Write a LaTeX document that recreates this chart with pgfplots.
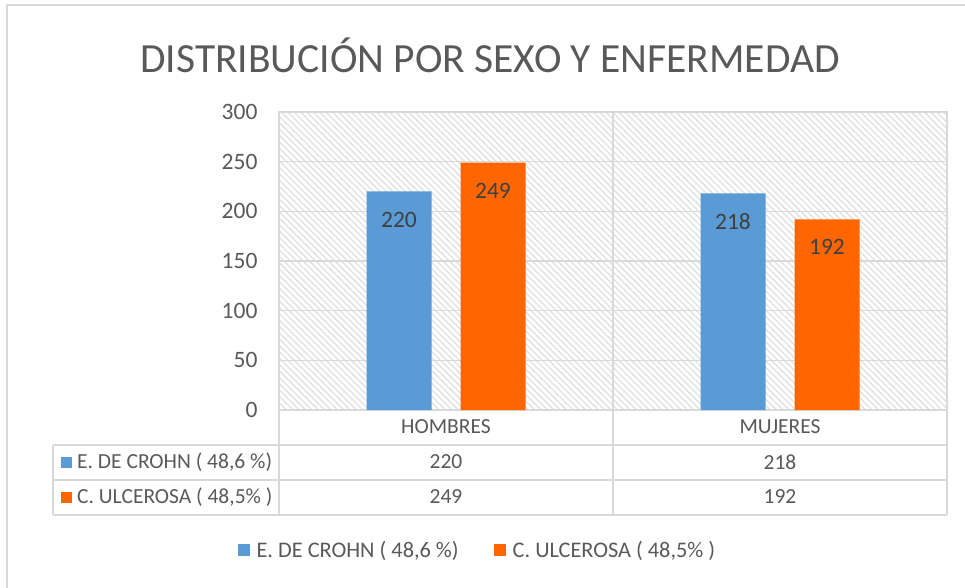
\documentclass[border=0pt]{standalone}
\usepackage{pgfplots}
\pgfplotsset{compat=1.18}
\usepackage{fontspec}
\setmainfont{Carlito}
\usetikzlibrary{patterns.meta}
\definecolor{cblue}{HTML}{5B9BD5}
\definecolor{corange}{HTML}{FF6600}
\definecolor{gridc}{HTML}{D9D9D9}
\definecolor{txt}{HTML}{595959}
\definecolor{lbl}{HTML}{404040}
\definecolor{hatch}{HTML}{E0E0E0}
\newcommand{\tf}{\fontsize{21.5}{25}\selectfont}
\begin{document}
\begin{tikzpicture}
\path[use as bounding box] (0pt,0pt) rectangle (965pt,-588pt);
\draw[gridc, line width=1.5pt] (7pt,-588pt) -- (7pt,-5pt) -- (965pt,-5pt);
\node[text=txt, font=\fontsize{41.5}{48}\selectfont] at (490pt,-55pt) {DISTRIBUCIÓN POR SEXO Y ENFERMEDAD};
\begin{axis}[
  at={(279pt,-410pt)}, anchor=south west,
  scale only axis, width=668pt, height=298pt,
  xmin=-0.5, xmax=1.5, ymin=0, ymax=300,
  ybar=29pt, bar width=65pt,
  ytick={0,50,...,300},
  xtick={0,1}, xticklabels={},
  extra x ticks={0.5}, extra x tick labels={},
  extra x tick style={grid=major},
  ymajorgrids,
  major grid style={gridc, line width=1.5pt},
  axis line style={gridc, line width=1.5pt},
  major tick length=0pt,
  tick label style={font=\fontsize{23.5}{27}\selectfont, text=txt},
  yticklabel style={xshift=-18pt},
  /pgf/number format/assume math mode=true,
  axis background/.style={pattern={Lines[angle=-45,distance=4.5pt,line width=1.3pt]}, pattern color=hatch},
  legend style={at={(0.297,-0.47)}, anchor=center, draw=none, fill=none,
    legend columns=2, font=\fontsize{22.3}{26}\selectfont, text=txt,
    /tikz/every even column/.append style={column sep=33pt}},
  legend image code/.code={\path (0pt,0pt) -- (17pt,0pt);\path[#1,draw=none] (0pt,-6pt) rectangle (12pt,6pt);},
  nodes near coords,
  nodes near coords style={font=\fontsize{23.5}{27}\selectfont, text=lbl, anchor=center, yshift=-28pt},
]
\addplot[fill=cblue, draw=none] coordinates {(0,220) (1,218)};
\addlegendentry{E. DE CROHN ( 48,6 \%)}
\addplot[fill=corange, draw=none] coordinates {(0,249) (1,192)};
\addlegendentry{C. ULCEROSA ( 48,5\% )}
\end{axis}
% data table
\draw[gridc, line width=1.5pt] (53pt,-445pt) -- (947pt,-445pt);
\draw[gridc, line width=1.5pt] (53pt,-480pt) -- (947pt,-480pt);
\draw[gridc, line width=1.5pt] (53pt,-515pt) -- (947pt,-515pt);
\draw[gridc, line width=1.5pt] (53pt,-445pt) -- (53pt,-515pt);
\draw[gridc, line width=1.5pt] (279pt,-410pt) -- (279pt,-515pt);
\draw[gridc, line width=1.5pt] (613pt,-410pt) -- (613pt,-515pt);
\draw[gridc, line width=1.5pt] (947pt,-410pt) -- (947pt,-515pt);
\node[text=txt, font=\tf] at (446pt,-427pt) {HOMBRES};
\node[text=txt, font=\tf] at (780pt,-427pt) {MUJERES};
\node[text=txt, font=\tf] at (446pt,-462pt) {220};
\node[text=txt, font=\tf] at (780pt,-462pt) {218};
\node[text=txt, font=\tf] at (446pt,-497pt) {249};
\node[text=txt, font=\tf] at (780pt,-497pt) {192};
\fill[cblue] (61pt,-457pt) rectangle (72pt,-468pt);
\fill[corange] (61pt,-492pt) rectangle (72pt,-503pt);
\node[text=txt, font=\tf, anchor=west, inner sep=0pt] at (77pt,-462pt) {E. DE CROHN ( 48,6 \%)};
\node[text=txt, font=\tf, anchor=west, inner sep=0pt] at (77pt,-497pt) {C. ULCEROSA ( 48,5\% )};
\end{tikzpicture}
\end{document}
